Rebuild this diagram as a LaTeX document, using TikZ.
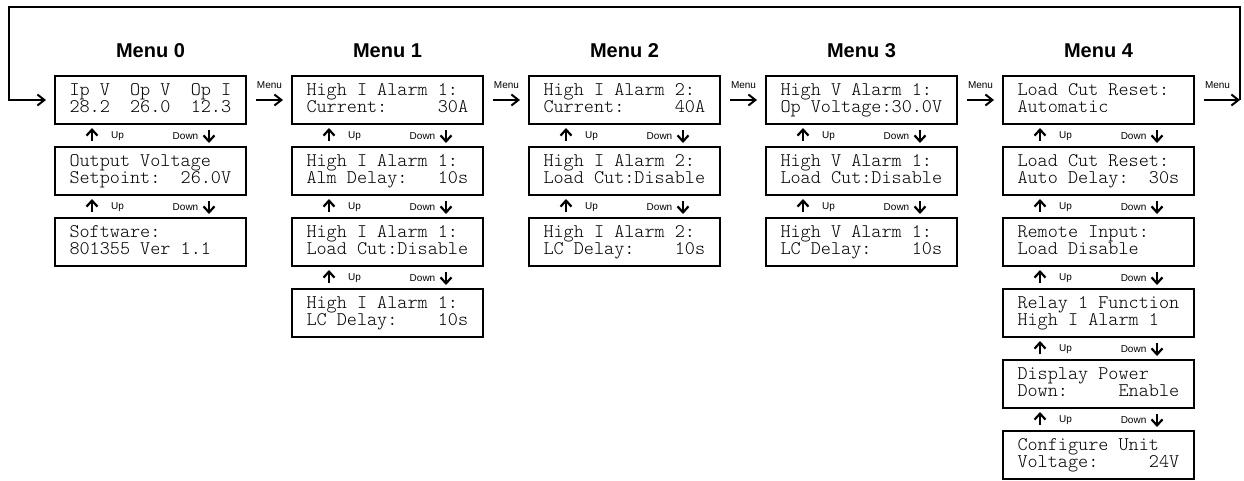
\documentclass[tikz,border=0pt]{standalone}
\usepackage{fontspec}
\setmainfont{Liberation Sans}
\newfontfamily\lcdfont{lmmonolt10-regular.otf}
\usetikzlibrary{arrows.meta}

% one 16-character display row with a fixed strut so both rows sit evenly
\newcommand\lcdrow[1]{\hbox to 162pt{\vrule width0pt height12.75pt depth4.75pt\relax #1\hfil}}
\newcommand\lcdtext[2]{\vbox{\baselineskip=17.5pt\lineskip=0pt\lcdrow{#1}\lcdrow{#2}}}

% Up / Down key arrows between two stacked display screens
\newcommand\navpair[2]{%
  \draw[nav] ([xshift=-58.5pt,yshift=5pt]#2.north) -- ([xshift=-58.5pt,yshift=-3pt]#1.south);
  \draw[nav] ([xshift=58.5pt,yshift=-5pt]#1.south) -- ([xshift=58.5pt,yshift=3pt]#2.north);
  \node[keylbl,anchor=west] (up-#1) at ([xshift=-39.5pt,yshift=-11.5pt]#1.south) {Up};
  \node[keylbl,anchor=east] (dn-#1) at ([xshift=48pt,yshift=-11.5pt]#1.south) {Down};
}

% Menu key arrow from one column to the next
\newcommand\menustep[2]{%
  \draw[menuarrow] ([xshift=9pt]#1.east) -- ([xshift=-8pt]#2.west);
  \node[keylbl] (mk-#1) at ([xshift=22.5pt,yshift=15pt]#1.east) {Menu};
}

\tikzset{
  lcd/.style={draw, line width=2pt, inner sep=0pt, inner xsep=14.5pt,
    minimum width=191pt, minimum height=48pt,
    font=\lcdfont\fontsize{19.25}{17.5}\selectfont},
  menutitle/.style={font=\bfseries\fontsize{20}{24}\selectfont, inner sep=0pt},
  keylbl/.style={font=\fontsize{10}{12}\selectfont, inner sep=0pt},
  nav/.style={line width=2.2pt, -{Straight Barb[length=6pt,width=11pt]}},
  menuarrow/.style={line width=2pt, -{Straight Barb[length=7pt,width=11pt]}},
}

\begin{document}
\begin{tikzpicture}[x=1pt,y=-1pt]
\useasboundingbox (0,0) rectangle (1244,480);

% column titles
\node[menutitle] (t0) at (150.5,51) {Menu 0};
\node[menutitle] (t1) at (387.5,51) {Menu 1};
\node[menutitle] (t2) at (624.5,51) {Menu 2};
\node[menutitle] (t3) at (861.5,51) {Menu 3};
\node[menutitle] (t4) at (1098.5,51) {Menu 4};

% Menu 0
\node[lcd] (b00) at (150.5,100) {\lcdtext{Ip~V~~Op~V~~Op~I}{28.2~~26.0~~12.3}};
\node[lcd] (b01) at (150.5,171) {\lcdtext{Output~Voltage}{Setpoint:~~26.0V}};
\node[lcd] (b02) at (150.5,242) {\lcdtext{Software:}{801355~Ver~1.1}};

% Menu 1
\node[lcd] (b10) at (387.5,100) {\lcdtext{High~I~Alarm~1:}{Current:~~~~~30A}};
\node[lcd] (b11) at (387.5,171) {\lcdtext{High~I~Alarm~1:}{Alm~Delay:~~~10s}};
\node[lcd] (b12) at (387.5,242) {\lcdtext{High~I~Alarm~1:}{Load~Cut:Disable}};
\node[lcd] (b13) at (387.5,313) {\lcdtext{High~I~Alarm~1:}{LC~Delay:~~~~10s}};

% Menu 2
\node[lcd] (b20) at (624.5,100) {\lcdtext{High~I~Alarm~2:}{Current:~~~~~40A}};
\node[lcd] (b21) at (624.5,171) {\lcdtext{High~I~Alarm~2:}{Load~Cut:Disable}};
\node[lcd] (b22) at (624.5,242) {\lcdtext{High~I~Alarm~2:}{LC~Delay:~~~~10s}};

% Menu 3
\node[lcd] (b30) at (861.5,100) {\lcdtext{High~V~Alarm~1:}{Op~Voltage:30.0V}};
\node[lcd] (b31) at (861.5,171) {\lcdtext{High~V~Alarm~1:}{Load~Cut:Disable}};
\node[lcd] (b32) at (861.5,242) {\lcdtext{High~V~Alarm~1:}{LC~Delay:~~~~10s}};

% Menu 4
\node[lcd] (b40) at (1098.5,100) {\lcdtext{Load~Cut~Reset:}{Automatic}};
\node[lcd] (b41) at (1098.5,171) {\lcdtext{Load~Cut~Reset:}{Auto~Delay:~~30s}};
\node[lcd] (b42) at (1098.5,242) {\lcdtext{Remote~Input:}{Load~Disable}};
\node[lcd] (b43) at (1098.5,313) {\lcdtext{Relay~1~Function}{High~I~Alarm~1}};
\node[lcd] (b44) at (1098.5,384) {\lcdtext{Display~Power}{Down:~~~~~Enable}};
\node[lcd] (b45) at (1098.5,455) {\lcdtext{Configure~Unit}{Voltage:~~~~~24V}};

% Up / Down navigation
\navpair{b00}{b01}\navpair{b01}{b02}
\navpair{b10}{b11}\navpair{b11}{b12}\navpair{b12}{b13}
\navpair{b20}{b21}\navpair{b21}{b22}
\navpair{b30}{b31}\navpair{b31}{b32}
\navpair{b40}{b41}\navpair{b41}{b42}\navpair{b42}{b43}\navpair{b43}{b44}\navpair{b44}{b45}

% Menu navigation
\menustep{b00}{b10}
\menustep{b10}{b20}
\menustep{b20}{b30}
\menustep{b30}{b40}

% return from the last menu to the first
\coordinate (loopR) at (1240,100);
\coordinate (loopTR) at (1240,7);
\coordinate (loopL) at (9,100);
\draw[menuarrow] ([xshift=9pt]b40.east) -- (loopR);
\node[keylbl] (mk-b40) at ([xshift=22.5pt,yshift=15pt]b40.east) {Menu};
\draw[menuarrow] (loopR) -- (loopTR) -| (loopL) -- ([xshift=-8pt]b00.west);
\end{tikzpicture}
\end{document}
